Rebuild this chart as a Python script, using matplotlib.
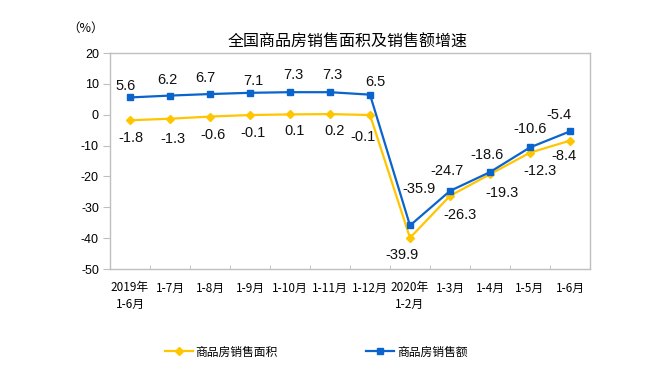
import matplotlib
matplotlib.use("Agg")
import matplotlib.pyplot as plt
from matplotlib.lines import Line2D

plt.rcParams['font.family'] = ['Noto Sans CJK SC', 'DejaVu Sans']

categories = ["2019年\n1-6月", "1-7月", "1-8月", "1-9月", "1-10月", "1-11月", "1-12月",
              "2020年\n1-2月", "1-3月", "1-4月", "1-5月", "1-6月"]
area = [-1.8, -1.3, -0.6, -0.1, 0.1, 0.2, -0.1, -39.9, -26.3, -19.3, -12.3, -8.4]
sales = [5.6, 6.2, 6.7, 7.1, 7.3, 7.3, 6.5, -35.9, -24.7, -18.6, -10.6, -5.4]
yticks = [20, 10, 0, -10, -20, -30, -40, -50]
title = "全国商品房销售面积及销售额增速"
name_area = "商品房销售面积"
name_sales = "商品房销售额"

# label offsets in pixels (dx, dy down)
off_sales = [(-4, -11), (-3, -16), (-5, -16), (3, -12), (3, -17), (2, -17), (5, -13),
             (9, -36), (-3, -20), (-3, -17), (0, -18), (-11, -16)]
off_area = [(1, 18), (3, 20), (3, 18), (3, 18), (5, 17), (5, 17), (-7, 22),
            (-8, 17), (10, 19), (12, 19), (10, 18), (-6, 15)]

YEL = '#FFC600'
BLU = '#0A64CC'
GRID = '#BFBFBF'
NUMFONT = ['Liberation Sans', 'DejaVu Sans']

fig = plt.figure(figsize=(6.7, 3.67), dpi=100)
ax = fig.add_axes([110/670, 1-269/367, 480/670, 216/367])

x = list(range(len(categories)))
ax.plot(x, area, color=YEL, lw=1.6, marker='D', ms=4.5, mec=YEL, mfc=YEL, zorder=3)
ax.plot(x, sales, color=BLU, lw=1.6, marker='s', ms=5, mec=BLU, mfc=BLU, zorder=4)

for i in x:
    dx, dy = off_sales[i]
    ax.annotate(f"{sales[i]:.1f}", (i, sales[i]), xytext=(dx*0.72, -dy*0.72),
                textcoords='offset points', ha='center', va='center', fontsize=10.5,
                family=NUMFONT, color='#111111')
    dx, dy = off_area[i]
    ax.annotate(f"{area[i]:.1f}", (i, area[i]), xytext=(dx*0.72, -dy*0.72),
                textcoords='offset points', ha='center', va='center', fontsize=10.5,
                family=NUMFONT, color='#111111')

ax.set_xlim(-0.5, len(categories) - 0.5)
ax.set_ylim(-50, 20)
ax.set_yticks(yticks)
ax.set_yticklabels([str(v) for v in yticks], fontsize=9, family=NUMFONT)
ax.tick_params(axis='y', direction='out', length=5, color=GRID, pad=3)

ax.set_xticks(x)
ax.set_xticklabels(categories, fontsize=8.5, linespacing=1.35, va='top')
ax.tick_params(axis='x', which='major', length=0, pad=9)
ax.set_xticks([i + 0.5 for i in range(len(categories) - 1)], minor=True)
ax.tick_params(axis='x', which='minor', direction='in', length=3, color=GRID)

for s in ax.spines.values():
    s.set_color(GRID)
    s.set_linewidth(1.0)

fig.text(348/670, 1-42/367, title, ha='center', va='center', fontsize=11.5)
fig.text(86/670, 1-28/367, "（%）", ha='center', va='center', fontsize=9)

h1 = Line2D([], [], color=YEL, lw=1.6, marker='D', ms=4.5)
h2 = Line2D([], [], color=BLU, lw=1.6, marker='s', ms=5)
fig.legend([h1, h2], [name_area, name_sales], loc='center', bbox_to_anchor=(316/670, 1-352/367),
           ncol=2, frameon=False, fontsize=8.5, handlelength=2.4, handletextpad=0.2,
           columnspacing=7.5)

fig.savefig("out.png", dpi=100)
